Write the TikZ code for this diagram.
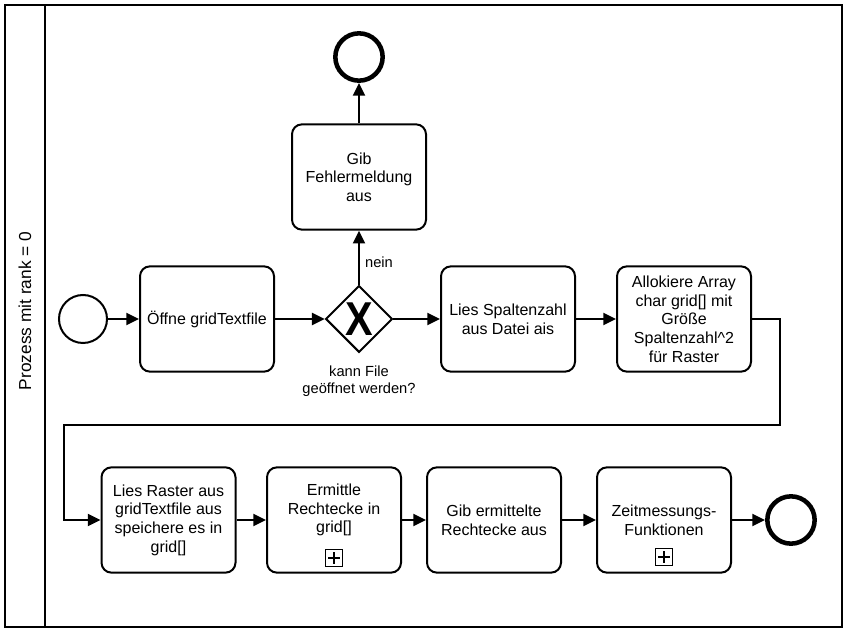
\documentclass[tikz,border=0pt]{standalone}
\usepackage{fontspec}
\setmainfont{Liberation Sans}
\usetikzlibrary{shapes.geometric,arrows.meta}
\begin{document}
\begin{tikzpicture}[x=0.75pt,y=-0.75pt,
  every node/.style={font=\fontsize{12}{14}\selectfont},
  task/.style={draw, line width=1.5pt, rounded corners=7.5pt, minimum width=100.5pt,
    minimum height=79pt, align=center, inner sep=2pt},
  flow/.style={line width=1.5pt, -{Triangle[length=9.5pt,width=9pt]}},
  startev/.style={circle, draw, line width=1.5pt, minimum size=36pt, inner sep=0pt},
  endev/.style={circle, draw, line width=3.4pt, minimum size=35.5pt, inner sep=0pt},
  gate/.style={diamond, draw, line width=1.5pt, minimum width=50pt, minimum height=50pt, inner sep=0pt},
  gatemark/.style={font=\fontsize{31}{31}\bfseries\selectfont, inner sep=0pt, yscale=1.15},
  lbl/.style={align=center, inner sep=0pt},
  smalllbl/.style={align=center, inner sep=0pt, font=\fontsize{11}{13}\selectfont},
  plusmark/.style={draw, line width=0.8pt, minimum size=12.5pt, inner sep=0pt,
    path picture={\draw[line width=2pt]
      ([xshift=-4.4pt]path picture bounding box.center) -- ([xshift=4.4pt]path picture bounding box.center)
      ([yshift=-4.4pt]path picture bounding box.center) -- ([yshift=4.4pt]path picture bounding box.center);}},
  pool/.style={line width=1.5pt}]
\useasboundingbox (0,0) rectangle (851,634);

% pool and lane
\draw[pool] (5,5) rectangle (842,627);
\draw[pool] (45,5) -- (45,627);
\node[rotate=90, lbl, font=\fontsize{13}{15}\selectfont] (lane) at (25,311) {Prozess mit rank = 0};

% row 1
\node[startev] (start) at (83,319) {};
\node[task] (oeffne) at (207,319) {Öffne gridTextfile};
\node[gate] (gw) at (359,319) {};
\node[gatemark] (gwx) at (359,319) {X};
\node[task] (fehl) at (359,177) {Gib\\Fehlermeldung\\aus};
\node[endev] (end1) at (359,57) {};
\node[task] (spalt) at (508,319) {Lies Spaltenzahl\\aus Datei ais};
\node[task] (alloc) at (684,319) {Allokiere Array\\char grid[] mit\\Größe\\Spaltenzahl\^{}2\\für Raster};

\node[smalllbl] (nein) at (379,262) {nein};
\node[smalllbl] (kann) at (359,381) {kann File\\geöffnet werden?};

% row 2
\node[task] (lies) at (168.5,520) {Lies Raster aus\\gridTextfile aus\\speichere es in\\grid[]};
\node[task] (erm) at (334,520) {};
\node[lbl] (ermT) at (334,510) {Ermittle\\Rechtecke in\\grid[]};
\node[plusmark] (ermP) at (334,558) {};
\node[task] (gib) at (494,520) {Gib ermittelte\\Rechtecke aus};
\node[task] (zeit) at (664,520) {};
\node[lbl] (zeitT) at (664,520) {Zeitmessungs-\\Funktionen};
\node[plusmark] (zeitP) at (664,557) {};
\node[endev] (end2) at (791,520) {};

% flows
\draw[flow] (start) -- (oeffne);
\draw[flow] (oeffne) -- (gw);
\draw[flow] (gw) -- (spalt);
\draw[flow] (gw) -- (fehl);
\draw[flow] (fehl) -- (end1);
\draw[flow] (spalt) -- (alloc);
\coordinate (loopR) at (780,425);
\coordinate (loopL) at (64,425);
\draw[flow] (alloc.east) -| (loopR) -- (loopL) |- (lies.west);
\draw[flow] (lies) -- (erm);
\draw[flow] (erm) -- (gib);
\draw[flow] (gib) -- (zeit);
\draw[flow] (zeit) -- (end2);
\end{tikzpicture}
\end{document}
